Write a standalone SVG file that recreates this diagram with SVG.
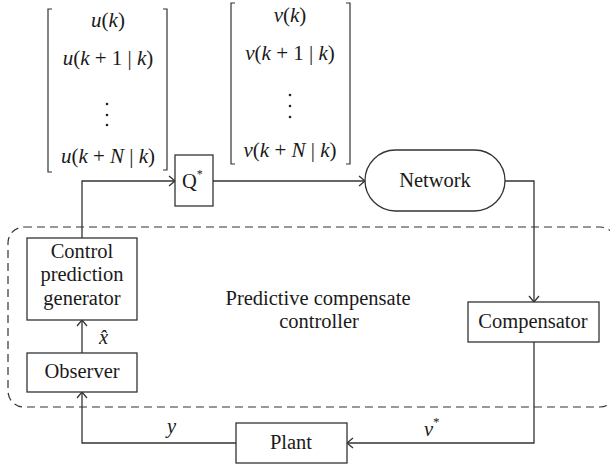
<svg xmlns="http://www.w3.org/2000/svg" width="610" height="466" viewBox="0 0 610 466">
<style>
text{font-family:"Liberation Serif","DejaVu Serif",serif;font-size:20.5px;fill:#1a1a1a}
.m{text-anchor:middle}
.i{font-style:italic}
.mx{font-size:21px}
.box{fill:#fff;stroke:#333;stroke-width:1.3}
.ln{fill:none;stroke:#333;stroke-width:1.3}
.br{fill:none;stroke:#333;stroke-width:1.2}
.dash{fill:none;stroke:#333;stroke-width:1.2;stroke-dasharray:8 5}
</style>
<defs>
<marker id="ah" markerUnits="userSpaceOnUse" markerWidth="12" markerHeight="12" refX="9" refY="6" orient="auto">
<path d="M3,1 L9,6 L3,11" fill="none" stroke="#333" stroke-width="1.3"/>
</marker>
</defs>
<rect id="region" class="dash" x="8" y="227" width="608" height="180" rx="16"/>
<text class="m" x="318" y="305">Predictive compensate</text>
<text class="m" x="319" y="328">controller</text>
<g id="u-vector">
<path class="br" d="M52,9 H48 V172 H52"/>
<path class="br" d="M163,9 H167 V170 H163"/>
<text class="m mx" x="108" y="27"><tspan class="i">u</tspan>(<tspan class="i">k</tspan>)</text>
<text class="m mx" x="108" y="65"><tspan class="i">u</tspan>(<tspan class="i">k</tspan> + 1 | <tspan class="i">k</tspan>)</text>
<circle cx="107" cy="104" r="1.3" fill="#222"/><circle cx="107" cy="115" r="1.3" fill="#222"/><circle cx="107" cy="125" r="1.3" fill="#222"/>
<text class="m mx" x="108" y="163"><tspan class="i">u</tspan>(<tspan class="i">k</tspan> + <tspan class="i">N</tspan> | <tspan class="i">k</tspan>)</text>
</g>
<g id="v-vector">
<path class="br" d="M235,3 H231 V164 H235"/>
<path class="br" d="M346,3 H350 V164 H346"/>
<text class="m mx" x="290" y="22"><tspan class="i">ν</tspan>(<tspan class="i">k</tspan>)</text>
<text class="m mx" x="290" y="60"><tspan class="i">ν</tspan>(<tspan class="i">k</tspan> + 1 | <tspan class="i">k</tspan>)</text>
<circle cx="290" cy="95" r="1.3" fill="#222"/><circle cx="290" cy="106" r="1.3" fill="#222"/><circle cx="290" cy="117" r="1.3" fill="#222"/>
<text class="m mx" x="290" y="157"><tspan class="i">ν</tspan>(<tspan class="i">k</tspan> + <tspan class="i">N</tspan> | <tspan class="i">k</tspan>)</text>
</g>
<g id="connectors">
<path class="ln" d="M82,238 V181 H175" marker-end="url(#ah)"/>
<path class="ln" d="M213,181 H365" marker-end="url(#ah)"/>
<path class="ln" d="M505,181 H534 V302" marker-end="url(#ah)"/>
<path class="ln" d="M534,342 V443 H347" marker-end="url(#ah)"/>
<path class="ln" d="M236,443 H82 V392" marker-end="url(#ah)"/>
<path class="ln" d="M82,353 V320" marker-end="url(#ah)"/>
<text class="i" x="424" y="436">ν<tspan dy="-10" style="font-size:13px;font-style:normal">*</tspan></text>
<text class="i" x="167" y="433">y</text>
<text class="i" x="99" y="344">x̂</text>
</g>
<g id="q">
<rect class="box" x="175" y="155" width="38" height="51"/>
<text x="182" y="188">Q<tspan dy="-10" style="font-size:12px">*</tspan></text>
</g>
<g id="network">
<rect class="box" x="365" y="150" width="140" height="61" rx="30.5"/>
<text class="m" x="435" y="187">Network</text>
</g>
<g id="compensator">
<rect class="box" x="468" y="302" width="131" height="40"/>
<text class="m" x="533" y="328">Compensator</text>
</g>
<g id="plant">
<rect class="box" x="236" y="423" width="111" height="40"/>
<text class="m" x="291" y="449">Plant</text>
</g>
<g id="observer">
<rect class="box" x="27" y="353" width="110" height="39"/>
<text class="m" x="82" y="378">Observer</text>
</g>
<g id="cpg">
<rect class="box" x="27" y="238" width="110" height="82"/>
<text class="m" x="82" y="258">Control</text>
<text class="m" x="82" y="281">prediction</text>
<text class="m" x="82" y="305">generator</text>
</g>
</svg>
